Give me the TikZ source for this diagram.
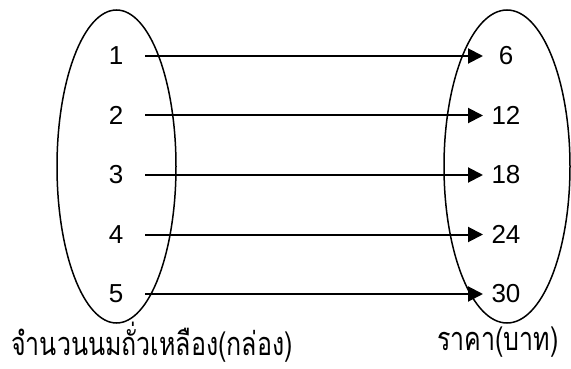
\documentclass[tikz,border=0pt]{standalone}
\usepackage{fontspec}
\usepackage{graphicx}
\setmainfont{Liberation Sans}
\newfontfamily\thaifont[Script=Thai]{Loma}
\usetikzlibrary{arrows.meta}
\begin{document}
\begin{tikzpicture}[x=1pt,y=-1pt,
    every node/.style={font=\fontsize{26}{30}\selectfont},
    setline/.style={line width=1.5pt},
    setname/.style={inner sep=0pt,font=\fontsize{25}{30}\selectfont\thaifont},
    mapline/.style={line width=2pt,-{Triangle[length=15pt,width=15pt]}}]
    \useasboundingbox (0,0) rectangle (571,369);
    % constants
    \def\leftX{116}
    \def\rightX{506}
    \def\startX{145}
    \def\endX{483}
    % the two sets
    \draw [setline] (116.5,166.5) ellipse [x radius=59.5, y radius=156.5];
    \draw [setline] (507,166.5) ellipse [x radius=63, y radius=156.5];
    % domain nodes
    \node (n1) at (\leftX, 56) {1};
    \node (n2) at (\leftX, 115.5) {2};
    \node (n3) at (\leftX, 175) {3};
    \node (n4) at (\leftX, 234.5) {4};
    \node (n5) at (\leftX, 294) {5};
    % range nodes
    \node (p1) at (\rightX, 56) {6};
    \node (p2) at (\rightX, 115.5) {12};
    \node (p3) at (\rightX, 175) {18};
    \node (p4) at (\rightX, 234.5) {24};
    \node (p5) at (\rightX, 294) {30};
    % arrow ends
    \coordinate (s1) at (\startX, 56);
    \coordinate (s2) at (\startX, 115.5);
    \coordinate (s3) at (\startX, 175);
    \coordinate (s4) at (\startX, 234.5);
    \coordinate (s5) at (\startX, 294);
    \coordinate (e1) at (\endX, 56);
    \coordinate (e2) at (\endX, 115.5);
    \coordinate (e3) at (\endX, 175);
    \coordinate (e4) at (\endX, 234.5);
    \coordinate (e5) at (\endX, 294);
    % set names
    \node [setname] (amount) at (152, 342) {\scalebox{1}[1.3]{จำนวนนมถั่วเหลือง(กล่อง)}};
    \node [setname] (price) at (498, 342) {\scalebox{1}[1.3]{ราคา(บาท)}};
    % mapping
    \draw [mapline] (s1) -- (e1);
    \draw [mapline] (s2) -- (e2);
    \draw [mapline] (s3) -- (e3);
    \draw [mapline] (s4) -- (e4);
    \draw [mapline] (s5) -- (e5);
\end{tikzpicture}
\end{document}
